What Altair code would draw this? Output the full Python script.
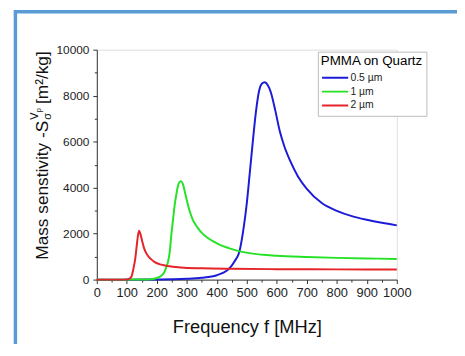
import altair as alt
import pandas as pd

# ---- data ----
series_names = ["0.5 µm", "1 µm", "2 µm"]
series_colors = ["#1c1cd8", "#26e226", "#e52328"]

f_05 = [0, 100, 200, 250, 300, 350, 400, 420, 440, 460, 475, 490, 500, 510, 520, 530,
        540, 550, 560, 570, 580, 595, 610, 625, 645, 670, 700, 750, 800, 850, 900, 950, 1000]
s_05 = [0, 0, 5, 15, 35, 80, 190, 290, 460, 810, 1200, 2300, 3330, 4650, 6000, 7250,
        8150, 8520, 8580, 8450, 8150, 7350, 6450, 5800, 5150, 4500, 3950, 3330, 2990, 2760, 2600, 2470, 2360]

f_1 = [0, 100, 150, 180, 200, 220, 230, 237, 243, 248, 254, 259, 265, 270, 276, 281, 287,
       292, 300, 308, 320, 336, 350, 368, 390, 412, 440, 467, 520, 600, 700, 800, 900, 1000]
s_1 = [0, 0, 5, 20, 70, 230, 480, 760, 1200, 1900, 2600, 3190, 3700, 4050, 4250, 4280, 4150,
       3900, 3450, 3050, 2600, 2260, 2030, 1830, 1650, 1500, 1370, 1260, 1130, 1040, 985, 945, 920, 900]

f_2 = [0, 90, 105, 115, 122, 128, 133, 137, 141, 145, 151, 158, 166, 180, 193, 215, 237,
       265, 292, 350, 450, 600, 800, 1000]
s_2 = [0, 0, 20, 120, 470, 900, 1470, 1900, 2130, 2000, 1690, 1350, 1120, 900, 760, 650, 590,
       545, 515, 490, 470, 455, 445, 440]

x_ticks = list(range(0, 1001, 50))
y_ticks = list(range(0, 10001, 1000))

rows = []
for name, fs, ss in zip(series_names, [f_05, f_1, f_2], [s_05, s_1, s_2]):
    for f, s in zip(fs, ss):
        rows.append({"series": name, "f": f, "S": s})
df = pd.DataFrame(rows)

FONT = "Liberation Sans"
W, H = 304, 233

x_axis = alt.Axis(
    values=x_ticks, format="d",
    labelExpr="datum.value % 100 === 0 ? datum.label : ''",
    tickSize={"condition": {"test": "datum.value % 100 === 0", "value": 4}, "value": 2.5},
    grid=False, title=None, labelFontSize=13, labelPadding=3,
    domainColor="#333333", tickColor="#333333", labelColor="#222222", labelFont=FONT,
    labelFlush=False, labelOverlap=False,
)
y_axis = alt.Axis(
    values=y_ticks, format="d",
    labelExpr="datum.value % 2000 === 0 ? datum.label : ''",
    tickSize={"condition": {"test": "datum.value % 2000 === 0", "value": 4}, "value": 2.5},
    grid=False, title=None, labelFontSize=12, labelPadding=4,
    domainColor="#333333", tickColor="#333333", labelColor="#222222", labelFont=FONT,
    labelFlush=False, labelOverlap=False,
)

lines = alt.Chart(df).mark_line(strokeWidth=2, interpolate="monotone").encode(
    x=alt.X("f:Q", scale=alt.Scale(domain=[0, 1000], nice=False, zero=False), axis=x_axis),
    y=alt.Y("S:Q", scale=alt.Scale(domain=[0, 10000], nice=False), axis=y_axis),
    color=alt.Color(
        "series:N",
        scale=alt.Scale(domain=series_names, range=series_colors),
        legend=alt.Legend(
            title="PMMA on Quartz", orient="none", legendX=224, legendY=2,
            strokeColor="#bbbbbb", padding=3, fillColor="white",
            titleFontSize=13.5, titleFontWeight="normal", titleColor="black", titleFont=FONT,
            titlePadding=3,
            labelFontSize=10.5, labelFont=FONT, labelColor="#222222", labelOffset=1,
            symbolType="stroke", symbolSize=700, symbolStrokeWidth=2, rowPadding=0,
            clipHeight=14,
        ),
    ),
)

frame = alt.Chart(pd.DataFrame({"a": [0]})).mark_rect(
    fill=None, stroke="#5b9bd5", strokeWidth=3.5
).encode(x=alt.value(-82.5), x2=alt.value(600), y=alt.value(-38.5), y2=alt.value(600))

def txt(t, x, y, size, align="left", angle=0):
    return alt.Chart(pd.DataFrame({"t": [t]})).mark_text(
        font=FONT, fontSize=size, align=align, baseline="alphabetic", angle=angle, color="#111111"
    ).encode(x=alt.value(x), y=alt.value(y), text="t:N")

xtitle = txt("Frequency f [MHz]", W / 2 + 0.5, 287, 18.5, align="center")
ytitle_main = txt("Mass senstivity  -S", -49, 72, 17.5, align="right", angle=270)
ytitle_sub = txt("σ", -46.5, 71, 11, align="left", angle=270)
ytitle_sup = txt("V", -59.5, 71, 11, align="left", angle=270)
ytitle_supsub = txt("p", -57, 63.5, 7.5, align="left", angle=270)
ytitle_end = txt("[m²/kg]", -49, 55, 17.5, align="left", angle=270)

chart = alt.layer(
    frame, lines, xtitle, ytitle_main, ytitle_sub, ytitle_sup, ytitle_supsub, ytitle_end
).properties(
    width=W, height=H,
    autosize=alt.AutoSizeParams(type="none"),
    padding={"left": 90, "top": 40, "right": 61, "bottom": 63},
).configure_view(stroke=None).configure(background="white")

chart.save("out.html", embed_options={"renderer": "svg", "actions": False})
